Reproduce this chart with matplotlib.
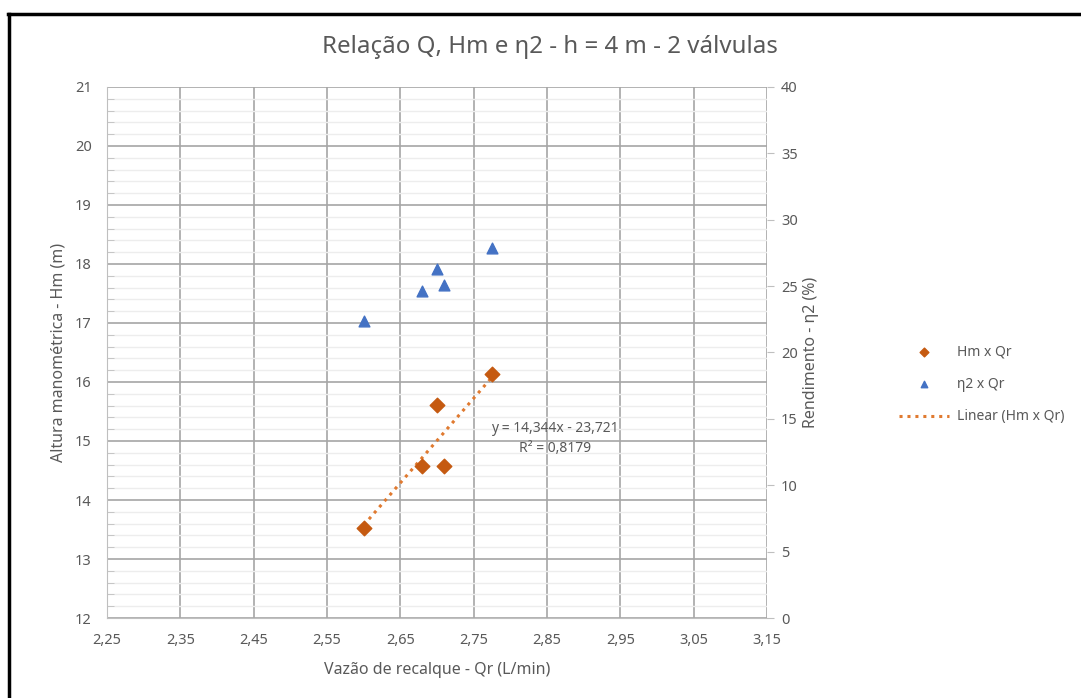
import numpy as np
import matplotlib.pyplot as plt
from matplotlib.ticker import MultipleLocator, FuncFormatter
from matplotlib.lines import Line2D

plt.rcParams['font.family'] = ['Noto Sans', 'DejaVu Sans']

# Vazão de recalque (L/min), altura manométrica (m), rendimento (%)
qr = [2.60, 2.68, 2.70, 2.71, 2.775]
hm = [13.53, 14.58, 15.61, 14.58, 16.14]
eta2 = [22.4, 24.6, 26.3, 25.1, 27.9]

slope, intercept = 14.344, -23.721
r2 = 0.8179

text_col = '#595959'
grid_col = '#A6A6A6'

fig = plt.figure(figsize=(10.81, 6.98), dpi=100)
ax = fig.add_axes([0.099, 0.1146, 0.6106, 0.7608])
ax2 = ax.twinx()

ax.set_xlim(2.25, 3.15)
ax.set_ylim(12, 21)
ax2.set_ylim(0, 40)

ax.xaxis.set_major_locator(MultipleLocator(0.1, offset=0.05))
ax.yaxis.set_major_locator(MultipleLocator(1))
ax.yaxis.set_minor_locator(MultipleLocator(0.2))
ax2.yaxis.set_major_locator(MultipleLocator(5))

comma = FuncFormatter(lambda v, p: f'{v:.2f}'.replace('.', ','))
ax.xaxis.set_major_formatter(comma)
ax.yaxis.set_major_formatter(FuncFormatter(lambda v, p: f'{v:.0f}'))

ax.grid(which='major', color=grid_col, linewidth=1.2)
ax.grid(which='minor', axis='y', color='#EDEDED', linewidth=1.0)
ax.set_axisbelow(True)

for a in (ax, ax2):
    for s in a.spines.values():
        s.set_visible(False)
ax.spines['left'].set_visible(True)
ax.spines['left'].set_color('#BFBFBF')
ax.spines['bottom'].set_visible(True)
ax.spines['bottom'].set_color('#BFBFBF')

ax.tick_params(axis='x', length=0, colors=text_col, labelsize=10.5, pad=11)
ax.tick_params(axis='y', which='major', length=0, colors=text_col, labelsize=10.5, pad=11)
ax.tick_params(axis='y', which='minor', length=5, color='#BFBFBF', direction='in')
ax2.tick_params(axis='y', length=5, color='#BFBFBF', colors=text_col, labelsize=10.5, pad=5)

# trendline
xt = np.array([min(qr), max(qr)])
line_trend, = ax.plot(xt, slope * xt + intercept, linestyle=(0, (1, 1.6)),
                      color='#E07A30', linewidth=2.2, zorder=3)

d1 = ax.scatter(qr, hm, marker='D', s=55, color='#C55A11', zorder=4)
t1 = ax2.scatter(qr, eta2, marker='^', s=60, color='#4472C4', zorder=4)

ax.text(2.861, 15.22, f'y = {slope:.3f}x - {-intercept:.3f}'.replace('.', ','),
        ha='center', va='center', color=text_col, fontsize=10)
ax.text(2.861, 14.88, f'R² = {r2:.4f}'.replace('.', ','),
        ha='center', va='center', color=text_col, fontsize=10)

ax.set_xlabel('Vazão de recalque - Qr (L/min)', color=text_col, fontsize=11.5, labelpad=10)
ax.set_ylabel('Altura manométrica - Hm (m)', color=text_col, fontsize=11.5, labelpad=6)
ax2.set_ylabel('Rendimento - η2 (%)', color=text_col, fontsize=11.5, labelpad=4)

fig.text(0.509, 0.933, 'Relação Q, Hm e η2 - h = 4 m - 2 válvulas',
         ha='center', va='center', color=text_col, fontsize=17.3)

leg = fig.legend([d1, t1, line_trend], ['Hm x Qr', 'η2 x Qr', 'Linear (Hm x Qr)'],
                 loc='center left', bbox_to_anchor=(0.820, 0.449), frameon=False,
                 fontsize=10, labelcolor=text_col, handlelength=3.6, handletextpad=0.6,
                 labelspacing=1.25, markerscale=0.6)

# black frame around chart (top and left edges)
fig.add_artist(Line2D([0.0075, 1.0], [0.9795, 0.9795], color='black', linewidth=2.5,
                      transform=fig.transFigure))
fig.add_artist(Line2D([0.0085, 0.0085], [0.0, 0.98], color='black', linewidth=2.5,
                      transform=fig.transFigure))

fig.savefig('out.png', dpi=100)
